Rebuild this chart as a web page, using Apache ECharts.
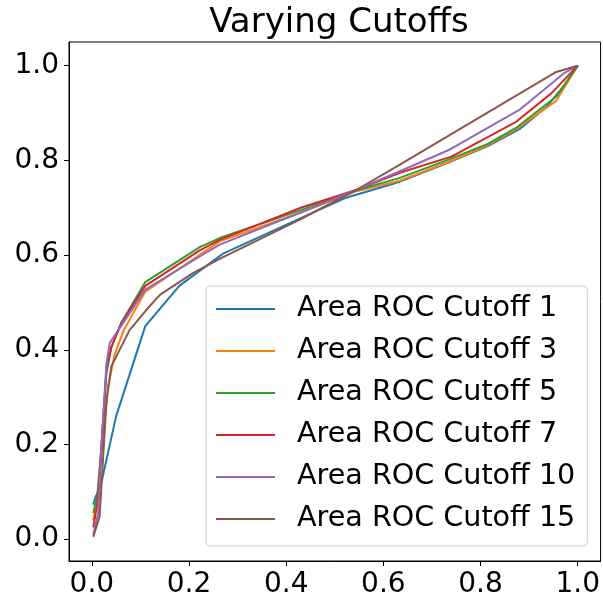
<!DOCTYPE html>
<html>
<head>
<meta charset="utf-8">
<script src="https://cdn.jsdelivr.net/npm/echarts@6/dist/echarts.min.js"></script>
<style>
  html, body { margin: 0; padding: 0; background: #fff; }
  #chart { width: 603px; height: 604px; }
</style>
</head>
<body>
<div id="chart"></div>
<script>
const titleText = 'Varying Cutoffs';
const seriesNames = ['Area ROC Cutoff 1', 'Area ROC Cutoff 3', 'Area ROC Cutoff 5', 'Area ROC Cutoff 7', 'Area ROC Cutoff 10', 'Area ROC Cutoff 15'];
const colors = ['#1f77b4', '#ff7f0e', '#2ca02c', '#d62728', '#9467bd', '#8c564b'];
const xTicks = [0, 0.2, 0.4, 0.6, 0.8, 1.0];
const yTicks = [0, 0.2, 0.4, 0.6, 0.8, 1.0];

const cutoff1 = [[0.003,0.073],[0.008,0.09],[0.018,0.112],[0.05,0.26],[0.11,0.45],[0.18,0.535],[0.27,0.603],[0.43,0.678],[0.52,0.72],[0.634,0.755],[0.73,0.794],[0.815,0.83],[0.88,0.866],[0.935,0.912],[0.97,0.955],[1.0,1.0]];
const cutoff3 = [[0.003,0.04],[0.012,0.09],[0.022,0.2],[0.033,0.32],[0.047,0.39],[0.065,0.44],[0.11,0.523],[0.2,0.585],[0.263,0.629],[0.43,0.69],[0.545,0.735],[0.634,0.757],[0.73,0.795],[0.815,0.832],[0.87,0.864],[0.955,0.925],[1.0,1.0]];
const cutoff5 = [[0.003,0.055],[0.012,0.1],[0.02,0.2],[0.03,0.35],[0.04,0.405],[0.06,0.456],[0.11,0.543],[0.222,0.617],[0.263,0.636],[0.43,0.695],[0.545,0.737],[0.634,0.763],[0.73,0.8],[0.815,0.835],[0.872,0.868],[0.956,0.935],[1.0,1.0]];
const cutoff7 = [[0.003,0.025],[0.012,0.08],[0.02,0.2],[0.03,0.36],[0.04,0.405],[0.06,0.455],[0.11,0.535],[0.222,0.61],[0.263,0.632],[0.43,0.70],[0.545,0.738],[0.634,0.774],[0.74,0.808],[0.874,0.882],[0.946,0.942],[1.0,1.0]];
const cutoff10 = [[0.003,0.01],[0.013,0.055],[0.02,0.2],[0.03,0.37],[0.037,0.415],[0.06,0.45],[0.11,0.527],[0.222,0.597],[0.263,0.622],[0.43,0.69],[0.545,0.738],[0.634,0.777],[0.737,0.823],[0.879,0.906],[0.973,0.985],[1.0,1.0]];
const cutoff15 = [[0.003,0.005],[0.016,0.048],[0.03,0.29],[0.04,0.365],[0.078,0.442],[0.112,0.484],[0.14,0.516],[0.208,0.562],[0.263,0.592],[0.43,0.676],[0.545,0.738],[0.634,0.791],[0.954,0.986],[1.0,1.0]];
const allData = [cutoff1, cutoff3, cutoff5, cutoff7, cutoff10, cutoff15];

const font = 'DejaVu Sans';
const chart = echarts.init(document.getElementById('chart'), null, { renderer: 'canvas' });
chart.setOption({
  animation: false,
  backgroundColor: '#fff',
  color: colors,
  title: {
    text: titleText,
    left: 334, textAlign: 'center', top: 1,
    textStyle: { fontFamily: font, fontSize: 34, fontWeight: 'normal', color: '#000' }
  },
  grid: { left: 69, right: 2, top: 42, bottom: 43, show: true, borderColor: '#000', borderWidth: 1, backgroundColor: 'transparent' },
  xAxis: {
    type: 'value', min: -0.047, max: 1.047,
    axisLine: { show: true, onZero: false, lineStyle: { color: '#000', width: 1 } },
    axisTick: { show: true, length: 5, customValues: xTicks, lineStyle: { color: '#000' } },
    axisLabel: { customValues: xTicks, margin: 10, fontFamily: font, fontSize: 28, color: '#000', formatter: v => v.toFixed(1) },
    splitLine: { show: false }
  },
  yAxis: {
    type: 'value', min: -0.046, max: 1.05,
    axisLine: { show: true, onZero: false, lineStyle: { color: '#000', width: 1 } },
    axisTick: { show: true, length: 5, customValues: yTicks, lineStyle: { color: '#000' } },
    axisLabel: { customValues: yTicks, margin: 10, fontFamily: font, fontSize: 28, color: '#000', formatter: v => v.toFixed(1) },
    splitLine: { show: false }
  },
  legend: {
    orient: 'vertical', left: 206, top: 286,
    icon: 'rect', itemWidth: 59, itemHeight: 2, itemGap: 10,
    padding: [7, 12, 11, 10],
    backgroundColor: 'rgba(255,255,255,0.8)', borderColor: '#cccccc', borderWidth: 1, borderRadius: 4,
    textStyle: { fontFamily: font, fontSize: 28.6, color: '#000', lineHeight: 32, padding: [0, 0, 0, 17] },
    data: seriesNames
  },
  series: allData.map((d, i) => ({
    name: seriesNames[i], type: 'line', data: d, symbol: 'none', smooth: false,
    lineStyle: { width: 2, color: colors[i] }, itemStyle: { color: colors[i] }
  }))
});
</script>
</body>
</html>
